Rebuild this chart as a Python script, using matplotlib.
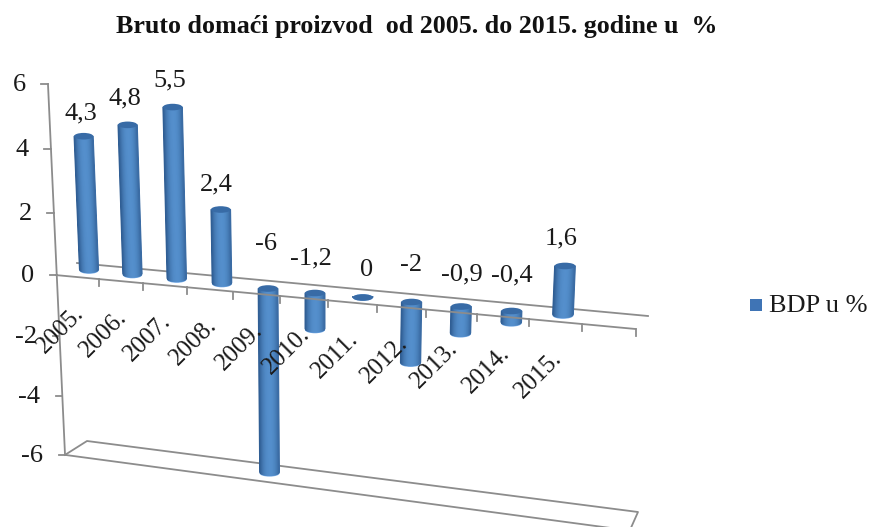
import numpy as np
import matplotlib
matplotlib.use('Agg')
import matplotlib.pyplot as plt
import matplotlib.patches as patches

plt.rcParams['font.family'] = ['Liberation Serif', 'DejaVu Serif']

# data
years = ['2005.', '2006.', '2007.', '2008.', '2009.', '2010.', '2011.', '2012.', '2013.', '2014.', '2015.']
bdp = [4.3, 4.8, 5.5, 2.4, -6, -1.2, 0, -2, -0.9, -0.4, 1.6]
bdp_labels = ['4,3', '4,8', '5,5', '2,4', '-6', '-1,2', '0', '-2', '-0,9', '-0,4', '1,6']
y_ticks = [6, 4, 2, 0, -2, -4, -6]
series_name = 'BDP u %'
title = 'Bruto domaći proizvod  od 2005. do 2015. godine u  %'

# hand placed label offsets from the top of each cylinder, as in the original
label_dx = [-3, -3, -3, -4, -2, -4, 4, 0, 1, 0, -4]
label_dy = [-22, -25, -26, -24, -43, -34, -27, -36, -31, -35, -27]

fig = plt.figure(figsize=(8.72, 5.27), dpi=100)
fig.patch.set_facecolor('white')
ax = fig.add_axes([0, 0, 1, 1])
ax.set_xlim(0, 872)
ax.set_ylim(527, 0)
ax.axis('off')

GRAY = '#8C8C8C'
TEXT = '#1A1A1A'


# fake 3D projection of the Excel chart: (category, value) -> picture position
def bar_x(i, v):
    return 89 + 43 * i + 0.44 * i ** 2 - (1.25 - 0.25 * i) * v


def bar_y(i, v):
    return 270.5 + 4.5 * i - 30.8 * v - 0.1 * max(v, 0) ** 2


def axis_x(k):
    return 56 + 42.3 * k + 0.5 * k ** 2


def axis_y(x):
    return 275 + 0.093 * (x - 55)


def wall_x(v):
    return 56.5 - 1.42 * v


def wall_y(v):
    return 275 - 30.9 * v - 0.153 * v ** 2


def shade(t):
    # dark at both edges, brightest a bit right of the middle
    dark = np.array([0.19, 0.37, 0.58])
    light = np.array([0.33, 0.56, 0.80])
    return dark + (light - dark) * max(0.0, 1 - abs(t - 0.1) ** 2.2)


def cylinder(i, v):
    hw = 9.6 + 0.08 * i
    ell = 3.3
    top, bottom = max(v, 0), min(v, 0)
    xt, yt = bar_x(i, top), bar_y(i, top)
    xb, yb = bar_x(i, bottom), bar_y(i, bottom)

    # light rim of the bottom cap
    ax.add_patch(patches.Ellipse((xb, yb), 2 * hw, 2 * ell, facecolor='#6FA6E4',
                                 edgecolor='none', zorder=4))

    # body cut in thin strips for the round shading
    ts = np.linspace(-1, 1, 25)
    for a, b in zip(ts[:-1], ts[1:]):
        da, db = ell * np.sqrt(1 - a ** 2), ell * np.sqrt(1 - b ** 2)
        xs = [xt + a * hw, xt + b * hw, xb + b * hw, xb + a * hw]
        ys = [yt, yt, yb + db - 1.2, yb + da - 1.2]
        c = shade((a + b) / 2)
        ax.fill(xs, ys, facecolor=c, edgecolor=c, lw=0.7, zorder=5)

    # top cap
    ax.add_patch(patches.Ellipse((xt, yt), 2 * hw, 2 * ell, facecolor='#386BA6',
                                 edgecolor='none', zorder=6))


# floor and back line, behind the bars
ax.plot([wall_x(-6), 87, 638, 630], [wall_y(-6), 441, 512, 530], color=GRAY, lw=1.3, zorder=2)
ax.plot([wall_x(-6), 640], [wall_y(-6), wall_y(-6) + 0.134 * (640 - wall_x(-6))], color=GRAY, lw=1.3, zorder=2)
ax.plot([77, 648], [263, 316], color=GRAY, lw=1.3, zorder=2)

for i, v in enumerate(bdp):
    cylinder(i, v)

# value axis
ax.plot([wall_x(6), wall_x(-6)], [wall_y(6), wall_y(-6)], color=GRAY, lw=1.3, zorder=7)
for v in y_ticks:
    x, y = wall_x(v), wall_y(v)
    ax.plot([x - 6.5, x], [y, y], color=GRAY, lw=1.3, zorder=7)
    ax.text(x - 22, y + 1, str(v), ha='right', va='center', fontsize=19, color=TEXT, zorder=8)

# category axis, one spare slot at the right end like the original
ax.plot([axis_x(0), axis_x(12)], [axis_y(axis_x(0)), axis_y(axis_x(12))], color=GRAY, lw=1.3, zorder=7)
for k in range(1, 13):
    x = axis_x(k)
    ax.plot([x, x], [axis_y(x), axis_y(x) + 7], color=GRAY, lw=1.3, zorder=7)

for i, name in enumerate(years):
    x = axis_x(i + 0.5)
    ax.text(x + 3, axis_y(x) + 33, name, rotation=45, rotation_mode='anchor',
            ha='right', va='center', fontsize=18, color=TEXT, zorder=9)

for i, v in enumerate(bdp):
    top = max(v, 0)
    ax.text(bar_x(i, top) + label_dx[i], bar_y(i, top) + label_dy[i] - 1, bdp_labels[i],
            ha='center', va='center', fontsize=19, color=TEXT, zorder=9)

# legend
ax.add_patch(patches.Rectangle((750, 299), 12, 12, facecolor='#3F74B5', edgecolor='none'))
ax.text(769, 306, series_name, ha='left', va='center', fontsize=19, color=TEXT)

ax.text(417, 27, title, ha='center', va='center', fontsize=18.7, fontweight='bold', color='#111111')

fig.savefig('out.png', dpi=100, facecolor='white')
